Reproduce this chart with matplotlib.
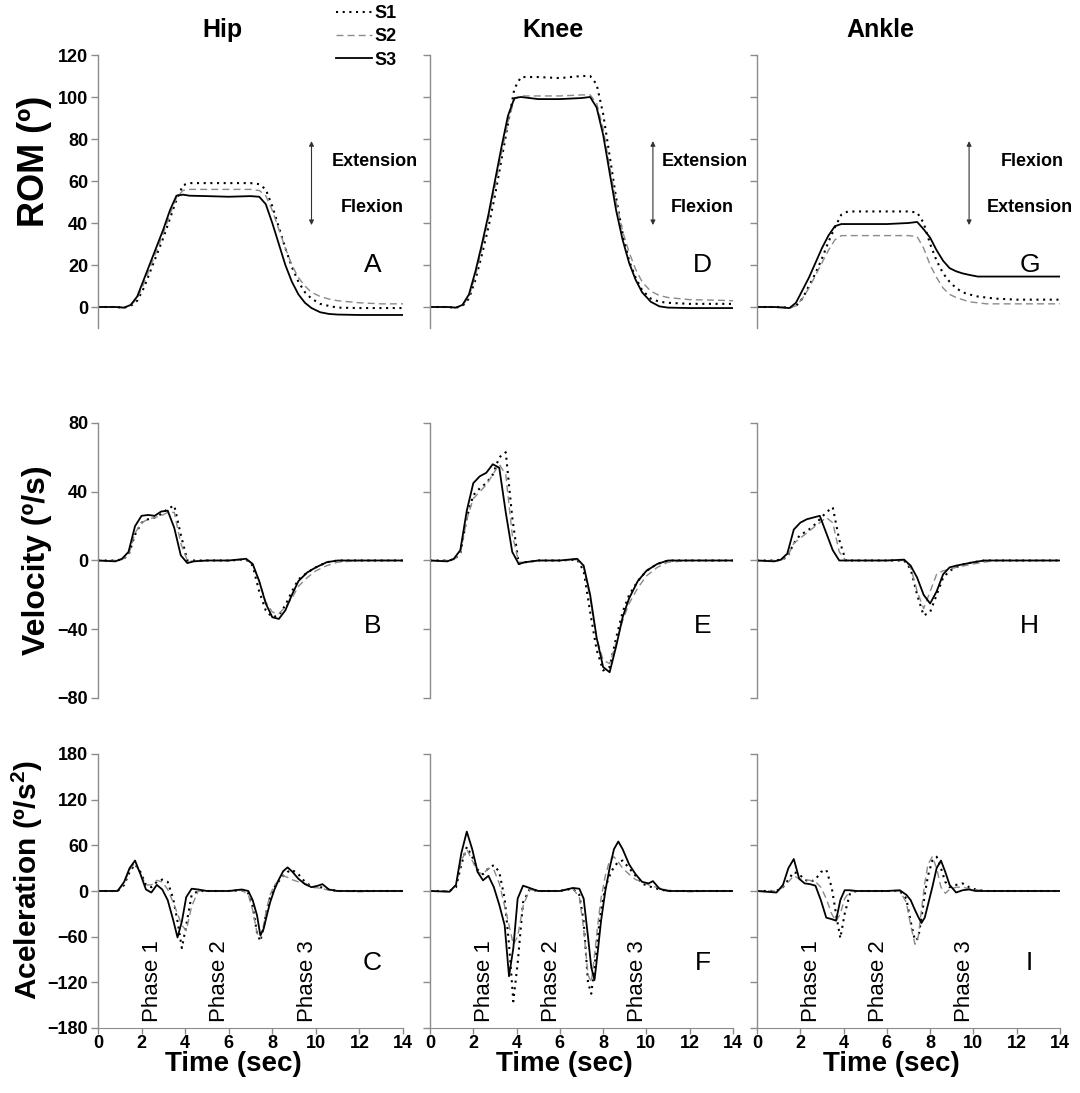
import matplotlib
matplotlib.use("Agg")
import matplotlib.pyplot as plt
from matplotlib.lines import Line2D

plt.rcParams['font.family'] = ['Liberation Sans', 'DejaVu Sans']
plt.rcParams['mathtext.fontset'] = 'custom'
plt.rcParams['mathtext.bf'] = 'Liberation Sans:bold'
plt.rcParams['mathtext.rm'] = 'Liberation Sans'

# ---- data ----
joints = ["Hip", "Knee", "Ankle"]
subjects = ["S1", "S2", "S3"]

# ROM (deg)
rom_t = [0, 0.8, 1.2, 1.5, 1.8, 2.1, 2.4, 2.7, 3.0, 3.3, 3.6, 3.9, 4.2, 5, 6, 7,
         7.4, 7.7, 8.0, 8.3, 8.6, 8.9, 9.2, 9.5, 9.8, 10.2, 10.6, 11, 12, 13, 14]
hip_rom_s1 = [0, 0, -0.3, 0.5, 3, 9, 17, 25, 33, 42, 51, 58, 59, 59, 59, 59,
              58.5, 56, 48, 38, 28, 19, 12, 7, 4, 1.5, 0.5, -0.3, -0.5, -0.5, -0.5]
hip_rom_s2 = [0, 0, -0.3, 0.8, 4, 11, 19, 27, 35, 44, 52, 55.5, 56, 56, 56, 56,
              55.5, 53, 46, 37, 28, 20, 14, 10, 7, 5, 3.8, 3, 2, 1.5, 1.5]
hip_rom_s3 = [0, 0, -0.3, 1, 5, 13, 21, 29, 37, 46, 53, 53.5, 53, 52.8, 52.5, 52.8,
              52.5, 49, 40, 30, 20, 12, 6, 2, -0.5, -2.5, -3.3, -3.6, -3.8, -3.8, -3.8]
knee_rom_s1 = [0, 0, -0.3, 0.5, 4, 13, 25, 38, 53, 70, 87, 104, 109.5, 109.5, 109, 110,
               110, 106, 92, 72, 52, 35, 22, 14, 8, 4, 2.5, 2, 1.5, 1.5, 1.5]
knee_rom_s2 = [0, 0, -0.3, 0.8, 5, 15, 28, 42, 57, 73, 88, 99, 100.5, 100.5, 100.5, 101,
               101, 97, 85, 67, 50, 36, 26, 18, 12, 7.5, 5.5, 4.5, 3.5, 3.3, 3]
knee_rom_s3 = [0, 0, -0.3, 1, 6, 17, 30, 44, 60, 76, 91, 99.5, 100, 99, 99, 99.5,
               100, 95, 82, 64, 46, 32, 21, 13, 7, 2.5, 0.3, -0.3, -0.5, -0.5, -0.5]
ankle_rom_s1 = [0, 0, 0, -0.3, 0.5, 4, 10, 16, 23, 31, 38, 44, 45.5, 45.5, 45.5, 45.5,
                45, 40, 30, 22, 16, 12, 9, 7, 6, 5, 4.5, 4, 3.5, 3.5, 3.5]
ankle_rom_s2 = [0, 0, 0, -0.3, 0.5, 4, 9, 15, 21, 27, 32, 34, 34, 34, 34, 34,
                33.5, 28, 20, 14, 9, 6, 4.5, 3.5, 2.5, 2, 1.5, 1.5, 1.5, 1.5, 1.5]
ankle_rom_s3 = [0, 0, -0.3, -0.5, 2, 8, 14, 21, 28, 34, 38.5, 39.5, 39.5, 39.5, 39.5, 40,
                40.5, 37, 33, 27, 22, 18.5, 17, 16, 15.3, 14.5, 14.5, 14.5, 14.5, 14.5, 14.5]

# Velocity (deg/s)
vel_t = [0, 0.8, 1.1, 1.4, 1.7, 2.0, 2.3, 2.6, 2.9, 3.2, 3.5, 3.8, 4.1, 4.4, 5, 6,
         6.8, 7.1, 7.4, 7.7, 8.0, 8.3, 8.6, 8.9, 9.2, 9.6, 10.0, 10.5, 11, 12, 13, 14]
hip_vel_s1 = [0, 0, 0.5, 3, 15, 22, 24, 25, 27, 30, 32, 15, 0, 0, 0, 0,
              0.5, -3, -18, -29, -33, -32, -26, -18, -11, -7, -4, -1, 0, 0, 0, 0]
hip_vel_s2 = [0, 0, 0.5, 3, 16, 22, 24, 25, 26, 28, 28, 10, 0, -0.5, 0, 0,
              0.5, -2, -12, -24, -30, -31, -27, -22, -15, -10, -6, -3, -1, 0, 0, 0]
hip_vel_s3 = [0, -0.5, 1, 5, 20, 26, 26.5, 26, 28.5, 29, 19, 3, -1.5, -0.5, 0, 0,
              1, -2, -12, -25, -33, -34, -29, -20, -12, -7, -4, -1, 0, 0, 0, 0]
knee_vel_s1 = [0, 0, 0.5, 4, 25, 38, 42, 45, 50, 60, 63, 25, -2, -1, 0, 0,
               0.5, -6, -30, -52, -64, -62, -45, -30, -20, -12, -6, -2, 0, 0, 0, 0]
knee_vel_s2 = [0, 0, 0.5, 4, 24, 36, 40, 44, 50, 56, 50, 15, -1, -1, 0, 0,
               0.5, -4, -22, -45, -58, -60, -48, -35, -25, -16, -9, -4, -1, 0, 0, 0]
knee_vel_s3 = [0, -0.5, 1, 6, 29, 45, 49, 51, 56, 54, 28, 5, -2, -1, 0, 0,
               1, -3, -20, -45, -62, -65, -50, -33, -22, -12, -6, -2, 0, 0, 0, 0]
ankle_vel_s1 = [0, 0, 0.3, 2, 10, 15, 17, 20, 24, 28, 31, 12, 0, 0, 0, 0,
                0, -5, -20, -32, -30, -20, -10, -6, -4, -2, -1, 0, 0, 0, 0, 0]
ankle_vel_s2 = [0, 0, 0.3, 2, 10, 13, 16, 19, 22, 25, 22, 5, 0, 0, 0, 0,
                0, -4, -18, -28, -18, -8, -6, -5, -4, -3, -2, -1, 0, 0, 0, 0]
ankle_vel_s3 = [0, -0.5, 0.5, 4, 18, 22, 24, 25, 26, 16, 6, 0, 0, 0, 0, 0,
                0.5, -3, -10, -20, -25, -18, -8, -4, -3, -2, -1, 0, 0, 0, 0, 0]

# Acceleration (deg/s^2)
acc_t = [0, 0.9, 1.2, 1.45, 1.7, 1.95, 2.2, 2.45, 2.7, 2.95, 3.2, 3.45, 3.65, 3.85,
         4.05, 4.3, 4.6, 5.0, 6.0, 6.6, 6.9, 7.1, 7.3, 7.45, 7.6, 7.75, 7.9, 8.1,
         8.3, 8.5, 8.7, 8.9, 9.2, 9.5, 9.8, 10.1, 10.3, 10.6, 11, 12, 13, 14]
hip_acc_s1 = [0, 0, 8, 25, 35, 25, 8, 5, 12, 15, 12, -10, -40, -75,
              -45, -5, 0, 0, 0, 1, -3, -20, -55, -66, -48, -25, -8, 5,
              13, 20, 25, 28, 22, 12, 6, 4, 5, 2, 0, 0, 0, 0]
hip_acc_s2 = [0, 0, 10, 28, 37, 22, 8, 8, 14, 12, 2, -15, -30, -45,
              -52, -20, 0, 0, 0, 1, -5, -25, -55, -62, -45, -22, -5, 8,
              14, 20, 18, 15, 12, 10, 6, 4, 3, 1, 0, -1, 0, 0]
hip_acc_s3 = [0, 0, 12, 30, 40, 22, 2, -2, 8, 2, -12, -38, -61, -40,
              -8, 3, 2, 0, 0, 2, 0, -12, -32, -58, -50, -32, -15, 2,
              15, 26, 31, 26, 16, 9, 5, 7, 9, 2, 0, 0, 0, 0]
knee_acc_s1 = [0, 0, 5, 35, 58, 45, 28, 22, 30, 34, 25, -10, -70, -145,
               -95, -15, 2, 0, 0, 3, -5, -40, -120, -135, -100, -60, -25, 5,
               20, 32, 38, 40, 30, 20, 10, 6, 5, 2, 0, 0, 0, 0]
knee_acc_s2 = [0, 0, 8, 40, 55, 40, 25, 22, 30, 28, 10, -20, -45, -70,
               -60, -20, 2, 0, 0, 3, -8, -50, -110, -120, -85, -45, -10, 20,
               40, 45, 38, 30, 22, 15, 12, 8, 6, 4, 1, -1, 0, 0]
knee_acc_s3 = [0, -1, 8, 50, 78, 55, 25, 14, 20, 5, -18, -45, -112, -75,
               -10, 7, 4, 0, 0, 4, 3, -10, -60, -100, -117, -80, -40, 0,
               30, 55, 65, 55, 35, 22, 12, 10, 13, 3, 0, 0, 0, 0]
ankle_acc_s1 = [0, 0, 5, 15, 25, 22, 15, 12, 15, 25, 28, 5, -30, -62,
                -30, -3, 0, 0, 0, 0, -10, -40, -65, -62, -35, -5, 20, 40,
                45, 30, 12, 5, 8, 10, 5, 2, 1, 0, 0, 0, 0, 0]
ankle_acc_s2 = [0, 0, 5, 12, 20, 16, 15, 14, 12, 5, -10, -30, -40, -30,
                -10, 0, 0, 0, 0, 0, -15, -45, -70, -60, -25, 10, 35, 45,
                30, 5, -3, 2, 5, 5, 3, 2, 1, 0, 0, 0, 0, 0]
ankle_acc_s3 = [0, -2, 8, 30, 42, 16, 10, 9, 7, -12, -35, -37, -39, -12,
                1, 1, 0, 0, 0, 1, -5, -12, -25, -34, -42, -35, -18, 5,
                30, 40, 25, 8, -2, 1, 2, 0, 0, 0, 0, 0, 0, 0]

rom = [[hip_rom_s1, hip_rom_s2, hip_rom_s3],
       [knee_rom_s1, knee_rom_s2, knee_rom_s3],
       [ankle_rom_s1, ankle_rom_s2, ankle_rom_s3]]
vel = [[hip_vel_s1, hip_vel_s2, hip_vel_s3],
       [knee_vel_s1, knee_vel_s2, knee_vel_s3],
       [ankle_vel_s1, ankle_vel_s2, ankle_vel_s3]]
acc = [[hip_acc_s1, hip_acc_s2, hip_acc_s3],
       [knee_acc_s1, knee_acc_s2, knee_acc_s3],
       [ankle_acc_s1, ankle_acc_s2, ankle_acc_s3]]

panel_letters = [["A", "D", "G"], ["B", "E", "H"], ["C", "F", "I"]]
arrow_text = [("Extension", "Flexion"), ("Extension", "Flexion"), ("Flexion", "Extension")]
phases = ["Phase 1", "Phase 2", "Phase 3"]
phase_x = [2.5, 5.6, 9.6]

# ---- styles ----
styles = [dict(color="black", lw=1.5, ls=(0, (1, 2.2))),
          dict(color="#8a8a8a", lw=1.0, ls=(0, (5, 3))),
          dict(color="black", lw=1.3, ls="-")]
grey = "#8c8c8c"

W, H = 1080, 1093
fig = plt.figure(figsize=(W / 100, H / 100), dpi=100)

col_x = [(98, 305), (430, 303), (757, 303)]
row_y = [(55, 328), (423, 698), (754, 1028)]
row_data = [(rom_t, rom, (-10, 120), range(0, 121, 20)),
            (vel_t, vel, (-80, 80), range(-80, 81, 40)),
            (acc_t, acc, (-180, 180), range(-180, 181, 60))]
ylabels = ["ROM (º)", "Velocity (º/s)", "Aceleration (º/s$^\\mathbf{2}$)"]
ylabel_size = [26, 23, 21.5]
ylabel_xpos = [-0.15, -0.15, -0.175]
ylabel_ypos = [0.61, 0.5, 0.54]

for r in range(3):
    t, data, ylim, yticks = row_data[r]
    top, bot = row_y[r]
    for c in range(3):
        x0, w = col_x[c]
        ax = fig.add_axes([x0 / W, 1 - bot / H, w / W, (bot - top) / H])
        for s in range(3):
            ax.plot(t, data[c][s], **styles[s])
        ax.set_xlim(0, 14)
        ax.set_ylim(*ylim)
        ax.set_yticks(list(yticks))
        for side in ["top", "right"]:
            ax.spines[side].set_visible(False)
        ax.spines["left"].set_color(grey)
        ax.spines["left"].set_linewidth(1.0)
        ax.tick_params(axis="y", direction="out", length=5, width=1, color=grey,
                       labelsize=13, pad=2)
        if c > 0:
            ax.set_yticklabels([])
        else:
            for lab in ax.get_yticklabels():
                lab.set_fontweight("bold")
        if r < 2:
            ax.spines["bottom"].set_visible(False)
            ax.set_xticks([])
        else:
            ax.spines["bottom"].set_color(grey)
            ax.set_xticks(range(0, 15, 2))
            ax.tick_params(axis="x", direction="out", length=4, width=1, color=grey,
                           labelsize=13, pad=1)
            for lab in ax.get_xticklabels():
                lab.set_fontweight("bold")
            ax.set_xlabel("Time (sec)", fontsize=20, fontweight="bold")
            ax.xaxis.set_label_coords(0.5 - 17 / w, -0.085)
            for px, ptxt in zip(phase_x, phases):
                ax.text(px, -172, ptxt, rotation=90, ha="center", va="bottom", fontsize=16)
        ax.text(12.6, [20, -38, -95][r], panel_letters[r][c], ha="center", va="center",
                fontsize=19)
        if r == 0:
            ax_x = [9.8, 10.3, 9.8][c]
            ax.annotate("", xy=(ax_x, 79), xytext=(ax_x, 39),
                        arrowprops=dict(arrowstyle="<|-|>", color="#333333", lw=0.8,
                                        mutation_scale=7, shrinkA=0, shrinkB=0))
            t1, t2 = arrow_text[c]
            ax.text(12.7, 69.5, t1, ha="center", va="center", fontsize=13, fontweight="bold")
            ax.text(12.6, 47.5, t2, ha="center", va="center", fontsize=13, fontweight="bold")
        if c == 0:
            ax.set_ylabel(ylabels[r], fontsize=ylabel_size[r], fontweight="bold")
            ax.yaxis.set_label_coords(ylabel_xpos[r], ylabel_ypos[r])

# column titles
for c, name in enumerate(joints):
    x0, w = col_x[c]
    fig.text((x0 + w / 2 - 28) / W, 1 - 30 / H, name, ha="center", va="center",
             fontsize=18, fontweight="bold")

# legend
handles = [Line2D([], [], **styles[s]) for s in range(3)]
leg = fig.legend(handles, subjects, loc="upper left", bbox_to_anchor=(336 / W, 1 - 5 / H),
                 frameon=False, fontsize=13, handlelength=2.0, handletextpad=0.15,
                 labelspacing=0.35, borderpad=0, borderaxespad=0)
for txt in leg.get_texts():
    txt.set_fontweight("bold")

fig.savefig("out.png", dpi=100, facecolor="white")
